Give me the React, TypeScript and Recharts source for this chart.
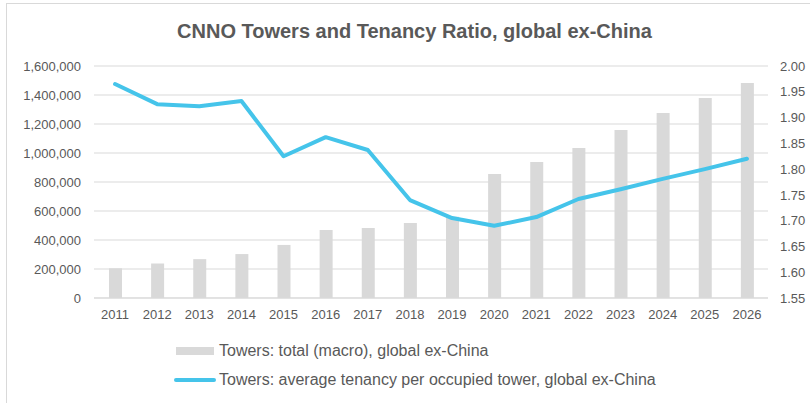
import { Bar, CartesianGrid, ComposedChart, Line, XAxis, YAxis } from 'recharts'

const YEARS = ['2011', '2012', '2013', '2014', '2015', '2016', '2017', '2018', '2019', '2020', '2021', '2022', '2023', '2024', '2025', '2026']
// total macro towers, global ex-China
const TOWERS = [205000, 238000, 268000, 303000, 366000, 469000, 483000, 517000, 560000, 855000, 938000, 1034000, 1159000, 1276000, 1379000, 1483000]
// average tenancy per occupied tower
const TENANCY = [1.965, 1.926, 1.922, 1.932, 1.825, 1.862, 1.837, 1.74, 1.705, 1.69, 1.707, 1.742, 1.761, 1.781, 1.8, 1.82]

const LEFT_TICKS = [0, 200000, 400000, 600000, 800000, 1000000, 1200000, 1400000, 1600000]
const RIGHT_TICKS = [1.55, 1.6, 1.65, 1.7, 1.75, 1.8, 1.85, 1.9, 1.95, 2.0]

const BAR_NAME = 'Towers: total (macro), global ex-China'
const LINE_NAME = 'Towers: average tenancy per occupied tower, global ex-China'

const TEXT = '#595959'
const GRID = '#d9d9d9'
const BAR = '#d9d9d9'
const LINE = '#45c4ea'
const FONT = '"Liberation Sans", Arial, sans-serif'

const rows = YEARS.map((year, i) => ({ year, towers: TOWERS[i], tenancy: TENANCY[i] }))

export default function App() {
  const tick = { fill: TEXT, fontSize: 13, fontFamily: FONT }
  return (
    <div style={{ position: 'absolute', left: 0, top: 0, width: 810, height: 403, overflow: 'hidden', background: '#fff', fontFamily: FONT }}>
      <div style={{ position: 'absolute', left: 6, top: 3, width: 900, height: 500, borderTop: `1.5px solid ${GRID}`, borderLeft: `1.5px solid ${GRID}` }} />
      <div style={{ position: 'absolute', left: 0, top: 20, width: 829, textAlign: 'center', fontSize: 20, fontWeight: 'bold', color: TEXT, whiteSpace: 'nowrap' }}>
        CNNO Towers and Tenancy Ratio, global ex-China
      </div>
      <div style={{ position: 'absolute', left: 0, top: 0 }}>
        <ComposedChart width={810} height={403} data={rows} margin={{ top: 66, right: 0, bottom: 75, left: 0 }}>
          <CartesianGrid yAxisId="left" vertical={false} stroke={GRID} strokeWidth={1} />
          <XAxis
            dataKey="year"
            tick={tick}
            tickLine={false}
            axisLine={{ stroke: GRID }}
            tickSize={6}
            tickMargin={6}
            height={30}
            interval={0}
          />
          <YAxis
            yAxisId="left"
            domain={[0, 1600000]}
            ticks={LEFT_TICKS}
            tick={tick}
            tickLine={false}
            axisLine={false}
            tickSize={6}
            tickMargin={7}
            width={94}
            tickFormatter={(v: number) => v.toLocaleString('en-US')}
          />
          <YAxis
            yAxisId="right"
            orientation="right"
            domain={[1.55, 2.0]}
            ticks={RIGHT_TICKS}
            tick={{ ...tick, textAnchor: 'start' }}
            tickLine={false}
            axisLine={false}
            tickSize={6}
            tickMargin={6}
            width={42}
            tickFormatter={(v: number) => v.toFixed(2)}
          />
          <Bar yAxisId="left" dataKey="towers" name={BAR_NAME} fill={BAR} barSize={13} isAnimationActive={false} />
          <Line
            yAxisId="right"
            type="linear"
            dataKey="tenancy"
            name={LINE_NAME}
            stroke={LINE}
            strokeWidth={4}
            strokeLinecap="round"
            strokeLinejoin="round"
            dot={false}
            activeDot={false}
            isAnimationActive={false}
          />
        </ComposedChart>
      </div>
      <div style={{ position: 'absolute', left: 176, top: 340, fontSize: 16, color: TEXT, lineHeight: '22px', whiteSpace: 'nowrap' }}>
        <div style={{ display: 'flex', alignItems: 'center', height: 22 }}>
          <span style={{ display: 'inline-block', width: 38, height: 8, background: BAR, marginRight: 5 }} />
          <span>{BAR_NAME}</span>
        </div>
        <div style={{ display: 'flex', alignItems: 'center', height: 22, marginTop: 7, marginLeft: -2 }}>
          <span style={{ display: 'inline-block', width: 42, height: 4, borderRadius: 2, background: LINE, marginRight: 3 }} />
          <span>{LINE_NAME}</span>
        </div>
      </div>
    </div>
  )
}
